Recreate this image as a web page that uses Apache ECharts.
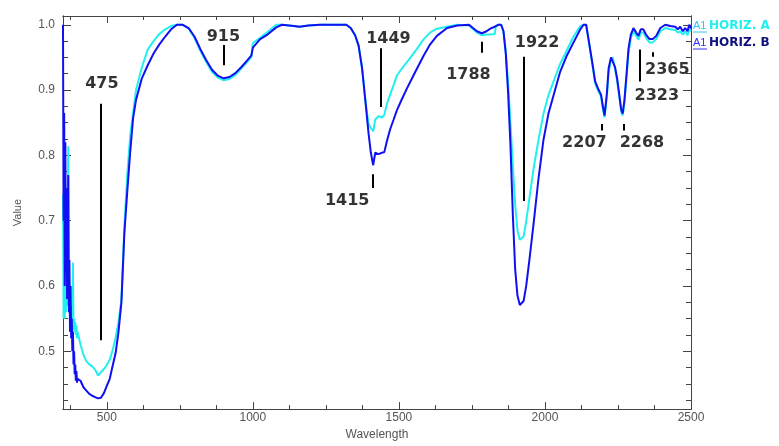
<!DOCTYPE html>
<html>
<head>
<meta charset="utf-8">
<script src="https://cdn.jsdelivr.net/npm/echarts@6/dist/echarts.min.js"></script>
<style>
html,body{margin:0;padding:0;background:#fff;}
#chart{width:779px;height:446px;}
</style>
</head>
<body>
<div id="chart"></div>
<script>
// ---- data ----
const wavelengths = [350,352,354,356,358,360,362,364,366,368,370,372,374,376,378,380,382,384,386,388,390,392,394,396,398,400,
410,420,430,440,450,460,470,480,490,500,510,520,530,540,550,560,570,580,590,600,620,640,660,680,700,720,740,760,780,800,
820,840,860,880,900,920,940,960,980,995,1000,1025,1050,1080,1100,1140,1160,1190,1230,1280,1320,1335,1350,1362,1374,1385,
1396,1404,1412,1419,1430,1442,1450,1459,1470,1482,1493,1510,1528,1545,1562,1585,1607,1630,1665,1700,1740,1767,1784,1800,
1813,1828,1832,1840,1850,1858,1866,1874,1882,1890,1898,1906,1914,1920,1927,1936,1947,1961,1978,1995,2012,2030,2052,2075,
2098,2121,2132,2141,2149,2161,2172,2184,2192,2198,2204,2212,2218,2226,2232,2240,2247,2255,2261,2266,2272,2279,2286,2294,
2303,2312,2320,2328,2337,2346,2358,2369,2381,2395,2412,2429,2446,2455,2463,2472,2480,2488,2494,2500];

const horizA = [0.74,0.55,0.67,0.55,0.65,0.56,0.62,0.57,0.72,0.814,0.57,0.60,0.55,0.57,0.54,0.56,0.53,0.636,0.535,0.55,0.53,0.545,0.525,0.54,0.52,0.53,
0.51,0.495,0.485,0.48,0.477,0.472,0.463,0.468,0.473,0.479,0.487,0.502,0.52,0.545,0.58,0.69,0.77,0.83,0.865,0.90,0.935,0.962,0.975,0.986,0.993,0.998,1.0,1.0,0.994,0.98,
0.96,0.943,0.928,0.919,0.915,0.917,0.923,0.933,0.943,0.951,0.972,0.98,0.989,1.0,1.0,0.998,0.997,0.999,1.0,1.0,1.0,0.995,0.984,0.968,0.934,0.886,
0.848,0.842,0.837,0.855,0.860,0.858,0.862,0.879,0.893,0.908,0.922,0.933,0.943,0.953,0.963,0.978,0.988,0.994,0.997,1.0,0.999,0.988,0.984,0.985,
0.985,0.986,0.998,1.0,1.0,0.99,0.96,0.91,0.849,0.785,0.725,0.685,0.671,0.670,0.676,0.70,0.735,0.78,0.824,0.864,0.892,0.914,0.94,0.961,
0.982,0.998,1.0,1.0,0.978,0.943,0.91,0.897,0.89,0.872,0.858,0.89,0.928,0.946,0.95,0.932,0.915,0.888,0.867,0.861,0.88,0.918,0.957,0.98,
0.99,0.983,0.977,0.988,0.988,0.98,0.973,0.973,0.978,0.99,0.995,0.993,0.992,0.988,0.99,0.985,0.99,0.984,0.993,0.99];

const horizB = [1.0,0.70,0.865,0.60,0.82,0.62,0.75,0.58,0.66,0.77,0.56,0.64,0.53,0.60,0.52,0.55,0.50,0.53,0.48,0.50,0.465,0.48,0.455,0.47,0.452,0.458,
0.455,0.445,0.44,0.435,0.432,0.43,0.428,0.429,0.436,0.447,0.458,0.478,0.497,0.53,0.575,0.68,0.745,0.805,0.857,0.885,0.918,0.938,0.956,0.97,0.982,0.993,1.0,1.0,0.995,0.982,
0.963,0.946,0.931,0.922,0.918,0.92,0.926,0.935,0.945,0.953,0.965,0.978,0.985,0.996,1.0,0.998,0.997,0.999,1.0,1.0,1.0,0.995,0.984,0.968,0.933,0.884,
0.834,0.804,0.785,0.804,0.802,0.804,0.805,0.822,0.84,0.855,0.869,0.886,0.903,0.918,0.933,0.953,0.97,0.983,0.995,0.999,1.0,0.99,0.987,0.99,
0.994,0.997,0.998,1.0,1.0,0.99,0.955,0.895,0.815,0.71,0.626,0.585,0.571,0.569,0.577,0.601,0.641,0.695,0.765,0.824,0.864,0.893,0.928,0.953,
0.973,0.993,1.0,1.0,0.978,0.945,0.913,0.90,0.893,0.876,0.861,0.895,0.933,0.95,0.953,0.935,0.918,0.891,0.870,0.864,0.884,0.923,0.963,0.985,
0.995,0.988,0.983,0.993,0.993,0.985,0.978,0.978,0.983,0.995,1.0,0.998,0.997,0.993,0.997,0.99,0.995,0.99,1.0,0.994];

const seriesNames = ['HORIZ. A', 'HORIZ. B'];
const xMajorTicks = [500, 1000, 1500, 2000, 2500];
const xMinorTicks = [375,500,625,750,875,1000,1125,1250,1375,1500,1625,1750,1875,2000,2125,2250,2375,2500];
const yMajorTicks = [0.5, 0.6, 0.7, 0.8, 0.9, 1.0];
const yMinorTicks = [0.425,0.45,0.475,0.5,0.525,0.55,0.575,0.6,0.625,0.65,0.675,0.7,0.725,0.75,0.775,0.8,0.825,0.85,0.875,0.9,0.925,0.95,0.975,1.0];

// band annotations: label, line x, line top, line bottom, text x, text y (data units)
const annoLabels = ['475','915','1449','1415','1788','1922','2207','2268','2323','2365'];
const annoLineX  = [480, 900, 1439, 1411, 1784, 1927, 2195, 2271, 2323, 2370];
const annoLineY1 = [0.879, 0.969, 0.964, 0.771, 0.974, 0.951, 0.848, 0.848, 0.962, 0.958];
const annoLineY2 = [0.517, 0.938, 0.874, 0.750, 0.957, 0.730, 0.838, 0.838, 0.913, 0.951];
const annoTextX  = [483, 899, 1464, 1323, 1738, 1973, 2135, 2332, 2383, 2419];
const annoTextY  = [0.909, 0.982, 0.979, 0.731, 0.924, 0.972, 0.819, 0.819, 0.891, 0.931];

// ---- chart ----
const frameColor = '#444';
const labelColor = '#555';
const X_MIN = 350, X_MAX = 2500, Y_MIN = 0.4116, Y_MAX = 1.0134;

function xAx(pos, ticks, len, labels) {
  return {
    type: 'value', min: X_MIN, max: X_MAX, position: pos,
    axisLine: { show: true, onZero: false, lineStyle: { color: frameColor, width: 1 } },
    axisTick: { show: true, inside: true, length: len, customValues: ticks, lineStyle: { color: frameColor } },
    axisLabel: labels ? { show: true, customValues: xMajorTicks, color: labelColor, fontFamily: 'Liberation Sans, Arial, sans-serif', fontSize: 12, margin: 3, formatter: v => String(Math.round(v)) } : { show: false },
    splitLine: { show: false },
    name: labels ? 'Wavelength' : '', nameLocation: 'middle', nameGap: 14,
    nameTextStyle: { color: labelColor, fontFamily: 'Liberation Sans, Arial, sans-serif', fontSize: 12 }
  };
}
function yAx(pos, ticks, len, labels) {
  return {
    type: 'value', min: Y_MIN, max: Y_MAX, position: pos,
    axisLine: { show: true, onZero: false, lineStyle: { color: frameColor, width: 1 } },
    axisTick: { show: true, inside: true, length: len, customValues: ticks, lineStyle: { color: frameColor } },
    axisLabel: labels ? { show: true, customValues: yMajorTicks, color: labelColor, fontFamily: 'Liberation Sans, Arial, sans-serif', fontSize: 12, margin: 8, formatter: v => v.toFixed(1) } : { show: false },
    splitLine: { show: false },
    name: labels ? 'Value' : '', nameLocation: 'middle', nameGap: 40, nameRotate: 90,
    nameTextStyle: { color: labelColor, fontFamily: 'Liberation Sans, Arial, sans-serif', fontSize: 11 }
  };
}

const annoLineData = annoLabels.map((l, i) => [
  { coord: [annoLineX[i], annoLineY1[i]] },
  { coord: [annoLineX[i], annoLineY2[i]] }
]);
const annoTextData = annoLabels.map((l, i) => ({ name: l, value: [annoTextX[i], annoTextY[i]] }));

const chart = echarts.init(document.getElementById('chart'), null, { renderer: 'canvas' });
chart.setOption({
  animation: false,
  backgroundColor: '#fff',
  grid: { left: 63, right: 88, top: 16, bottom: 25, containLabel: false },
  xAxis: [xAx('bottom', xMajorTicks, 7, true), xAx('bottom', xMinorTicks, 4, false), xAx('top', xMajorTicks, 7, false), xAx('top', xMinorTicks, 4, false)],
  yAxis: [yAx('left', yMajorTicks, 8, true), yAx('left', yMinorTicks, 5, false), yAx('right', yMajorTicks, 8, false), yAx('right', yMinorTicks, 5, false)],
  series: [
    {
      name: seriesNames[0], type: 'line', xAxisIndex: 0, yAxisIndex: 0,
      data: wavelengths.map((w, i) => [w, horizA[i]]),
      showSymbol: false, lineStyle: { color: '#22f0f0', width: 2 }, itemStyle: { color: '#22f0f0' }, z: 2
    },
    {
      name: seriesNames[1], type: 'line', xAxisIndex: 0, yAxisIndex: 0,
      data: wavelengths.map((w, i) => [w, horizB[i]]),
      showSymbol: false, lineStyle: { color: '#1010f0', width: 2 }, itemStyle: { color: '#1010f0' }, z: 3
    },
    {
      name: 'bands', type: 'scatter', xAxisIndex: 0, yAxisIndex: 0,
      data: annoTextData, symbolSize: 2, itemStyle: { color: 'rgba(255,255,255,0)' }, z: 5,
      label: { show: true, position: 'inside', formatter: p => p.name, color: '#000',
               textBorderWidth: 0, textBorderColor: 'transparent',
               fontFamily: 'DejaVu Sans, sans-serif', fontWeight: 'bold', fontSize: 16 },
      labelLayout: { hideOverlap: false },
      markLine: { silent: true, symbol: 'none', animation: false,
                  lineStyle: { color: '#000', width: 2, type: 'solid' }, label: { show: false },
                  data: annoLineData }
    }
  ],
  graphic: [
    { type: 'text', left: 693, top: 20, style: { text: 'A1', fill: '#2bc8f0', font: '11px "Liberation Sans", Arial, sans-serif' } },
    { type: 'line', shape: { x1: 693, y1: 32, x2: 707, y2: 32 }, style: { stroke: '#2bc8f0', lineWidth: 1 } },
    { type: 'text', left: 709, top: 20, style: { text: seriesNames[0], fill: '#22f0f0', font: 'bold 12px "DejaVu Sans", sans-serif' } },
    { type: 'text', left: 693, top: 37, style: { text: 'A1', fill: '#3030ff', font: '11px "Liberation Sans", Arial, sans-serif' } },
    { type: 'line', shape: { x1: 693, y1: 49, x2: 707, y2: 49 }, style: { stroke: '#3030ff', lineWidth: 1 } },
    { type: 'text', left: 709, top: 37, style: { text: seriesNames[1], fill: '#101080', font: 'bold 12px "DejaVu Sans", sans-serif' } }
  ]
});
</script>
</body>
</html>
